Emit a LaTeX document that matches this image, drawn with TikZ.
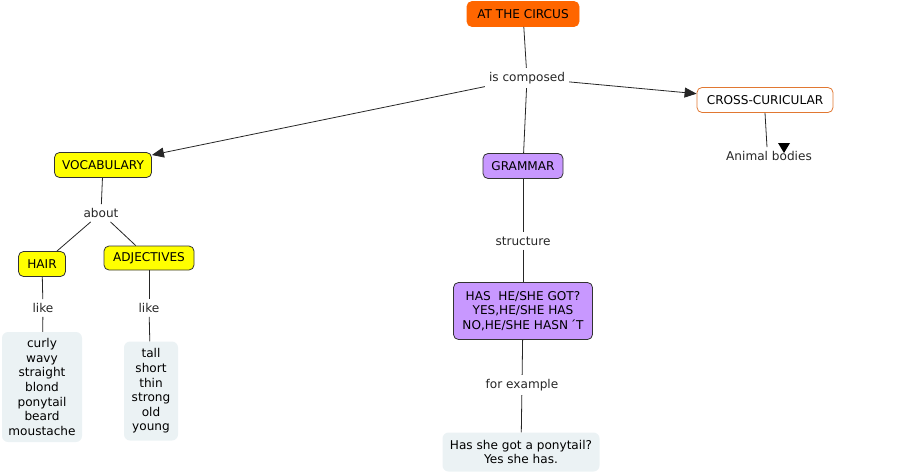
\documentclass[tikz,border=0pt]{standalone}
\usepackage{fontspec}
\setmainfont{DejaVu Sans}
\usetikzlibrary{arrows.meta}
\definecolor{circ}{RGB}{255,102,0}
\definecolor{voc}{RGB}{255,255,0}
\definecolor{gram}{RGB}{200,152,255}
\definecolor{lite}{RGB}{235,242,244}
\definecolor{crossb}{RGB}{225,120,50}
\begin{document}
\begin{tikzpicture}[x=1pt,y=-1pt,
  every node/.style={font=\fontsize{12.1}{14.6}\selectfont, align=center, inner sep=0pt},
  concept/.style={draw=black!80, rounded corners=5pt, line width=0.8pt},
  plainbox/.style={fill=lite, rounded corners=6pt},
  lbl/.style={inner sep=4pt, text=black!85},
  con/.style={line width=0.8pt, black!85},
  arr/.style={con, -{Triangle[length=12pt,width=10pt]}}]
\useasboundingbox (0,0) rectangle (919,474);

\node[concept, fill=circ, draw=circ, minimum width=112pt, minimum height=25pt] (circus) at (523,14) {AT THE CIRCUS};
\node[lbl] (comp) at (527,78) {is composed};
\node[concept, fill=white, draw=crossb, minimum width=136pt, minimum height=25pt] (cross) at (765,100) {CROSS-CURICULAR};
\node[lbl] (animal) at (769,156) {Animal bodies};
\node[concept, fill=voc, minimum width=97pt, minimum height=25pt] (voc) at (103,165) {VOCABULARY};
\node[concept, fill=gram, minimum width=80pt, minimum height=25pt] (gram) at (523,166) {GRAMMAR};
\node[lbl] (about) at (101,213) {about};
\node[concept, fill=voc, minimum width=47pt, minimum height=25pt] (hair) at (42,264) {HAIR};
\node[concept, fill=voc, minimum width=90pt, minimum height=24pt] (adj) at (149,258) {ADJECTIVES};
\node[lbl] (like1) at (43,308) {like};
\node[lbl] (like2) at (149,308) {like};
\node[plainbox, minimum width=80pt, minimum height=110pt] (hairlist) at (42,387) {curly\\wavy\\straight\\blond\\ponytail\\beard\\moustache};
\node[plainbox, minimum width=54pt, minimum height=99pt] (adjlist) at (151,391) {tall\\short\\thin\\strong\\old\\young};
\node[lbl] (struct) at (523,241) {structure};
\node[concept, fill=gram, minimum width=139pt, minimum height=57pt] (has) at (523,311) {HAS\ \ HE/SHE GOT?\\YES,HE/SHE HAS\\NO,HE/SHE HASN\,´T};
\node[lbl] (forex) at (522,385) {for example};
\node[plainbox, minimum width=157pt, minimum height=39pt] (ex) at (521,452) {Has she got a ponytail?\\Yes she has.};

\draw[con] (circus) -- (comp);
\draw[con] (comp) -- (gram);
\draw[arr] (comp) -- (voc);
\draw[arr] (comp) -- (cross);
\draw[con] (cross.south) -- ([xshift=-2pt]animal.north);
\coordinate (atip) at (784,153);
\fill[black] (atip) -- ++(-6,-10) -- ++(12,0) -- cycle;
\draw[con] (voc) -- (about);
\draw[con] (about) -- (hair);
\draw[con] (about) -- (adj);
\draw[con] (hair) -- (like1);
\draw[con] (like1) -- (hairlist);
\draw[con] (adj) -- (like2);
\draw[con] (like2) -- (adjlist);
\draw[con] (gram) -- (struct);
\draw[con] (struct) -- (has);
\draw[con] (has) -- (forex);
\draw[con] (forex) -- (ex);
\end{tikzpicture}
\end{document}
